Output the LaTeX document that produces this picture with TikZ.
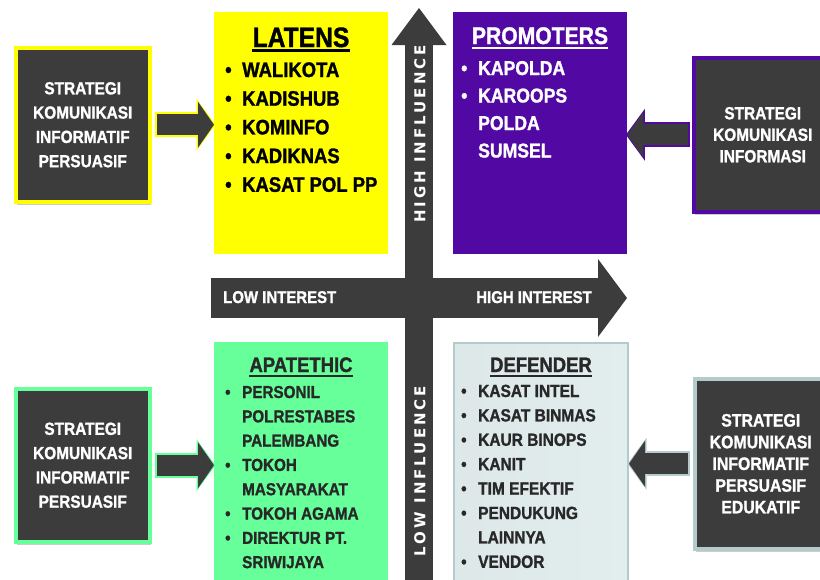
\documentclass[tikz,border=0pt]{standalone}
\usepackage{fontspec}
\setmainfont{Liberation Sans}[FakeStretch=0.88, BoldFeatures={FakeBold=1.3}]
\newfontfamily\axisfont{DejaVu Sans}[LetterSpace=20]
\usetikzlibrary{positioning, arrows.meta, shadows}

\definecolor{latenyellow}{RGB}{255,255,0}
\definecolor{promopurple}{RGB}{82,8,162}
\definecolor{apagreen}{RGB}{102,255,153}
\definecolor{defendfill}{RGB}{226,237,238}
\definecolor{defendline}{RGB}{180,203,205}
\definecolor{boxgray}{RGB}{60,60,60}
\definecolor{textgray}{RGB}{40,40,40}

\newcommand{\blt}{\makebox[17pt][l]{\textbullet}}
\newcommand{\nob}{\hspace*{17pt}}

\begin{document}
\begin{tikzpicture}[x=1pt, y=-1pt,
	quad/.style={rectangle, anchor=north west, inner sep=0, minimum width=174pt, minimum height=242pt},
	strat/.style={rectangle, anchor=north west, fill=boxgray, line width=3.5pt, inner sep=0,
		text=white, align=center, font=\bfseries\fontsize{17.5}{24.3}\selectfont,
		drop shadow={opacity=0.4, shadow xshift=1pt, shadow yshift=-3pt}},
	title/.style={inner sep=0, anchor=base},
	itemlist/.style={inner sep=0, anchor=base west},
	axislabel/.style={inner sep=0, anchor=base west, text=white, font=\bfseries\fontsize{17}{17}\selectfont},
	inflabel/.style={inner sep=0, rotate=90, text=white, font=\axisfont\bfseries\fontsize{15}{15}\selectfont},
	blockarrow/.style={line width=21pt, boxgray, -{Triangle[length=16pt, width=46pt, line width=0pt]},
		preaction={draw=#1, line width=25pt, -{Triangle[length=19pt, width=52pt, line width=0pt]},
			shorten >=-1.5pt, shorten <=-2pt}}]
	\useasboundingbox (0,0) rectangle (820,579);
	\clip (0,0) rectangle (820,579);

	% axes
	\coordinate (vbottom) at (419,590);
	\coordinate (vtop) at (419,8);
	\coordinate (hleft) at (211,298);
	\coordinate (hright) at (627,298);
	\draw[line width=28pt, boxgray, -{Triangle[length=37pt, width=55pt, line width=0pt]}] (vbottom) -- (vtop);
	\draw[line width=40pt, boxgray, -{Triangle[length=29pt, width=78pt, line width=0pt]}] (hleft) -- (hright);
	\node[axislabel] (lowint) at (223,303) {LOW INTEREST};
	\node[axislabel, anchor=base east] (highint) at (592,303) {HIGH INTEREST};
	\node[inflabel] (highinf) at (420,134) {HIGH INFLUENCE};
	\node[inflabel] (lowinf) at (420,471) {LOW INFLUENCE};

	% quadrants
	\node[quad, fill=latenyellow] (latens) at (214,12) {};
	\node[quad, fill=promopurple] (promoters) at (453,12) {};
	\node[quad, fill=apagreen, minimum height=245pt] (apatethic) at (214,342) {};
	\node[quad, left color=defendline!45, right color=defendfill, draw=defendline, line width=2pt, minimum height=245pt] (defender) at (453,342) {};

	\node[title, font=\bfseries\fontsize{28}{28}\selectfont] (latenstitle) at (301,47) {LATENS};
	\draw[line width=2.5pt] ([yshift=-3.5pt]latenstitle.base west) -- ([yshift=-3.5pt]latenstitle.base east);
	\node[itemlist, font=\bfseries\fontsize{21}{28.7}\selectfont] (latenslist) at (225,77) {%
		\begin{tabular}[t]{@{}l@{}}
			\blt WALIKOTA\\ \blt KADISHUB\\ \blt KOMINFO\\ \blt KADIKNAS\\ \blt KASAT POL PP
		\end{tabular}};

	\node[title, text=white, font=\bfseries\fontsize{24}{24}\selectfont] (promotitle) at (540,44) {PROMOTERS};
	\draw[white, line width=2pt] ([yshift=-3.5pt]promotitle.base west) -- ([yshift=-3.5pt]promotitle.base east);
	\node[itemlist, text=white, font=\bfseries\fontsize{20}{27.5}\selectfont] (promolist) at (461,75) {%
		\begin{tabular}[t]{@{}l@{}}
			\blt KAPOLDA\\ \blt KAROOPS\\ \nob POLDA\\ \nob SUMSEL
		\end{tabular}};

	\node[title, text=textgray, font=\bfseries\fontsize{21}{21}\selectfont] (apatitle) at (301,372) {APATETHIC};
	\draw[textgray, line width=2pt] ([yshift=-3.5pt]apatitle.base west) -- ([yshift=-3.5pt]apatitle.base east);
	\node[itemlist, text=textgray, font=\bfseries\fontsize{17.3}{24.3}\selectfont] (apalist) at (225,398) {%
		\begin{tabular}[t]{@{}l@{}}
			\blt PERSONIL\\ \nob POLRESTABES\\ \nob PALEMBANG\\ \blt TOKOH\\ \nob MASYARAKAT\\
			\blt TOKOH AGAMA\\ \blt DIREKTUR PT.\\ \nob SRIWIJAYA
		\end{tabular}};

	\node[title, text=textgray, font=\bfseries\fontsize{21}{21}\selectfont] (defendtitle) at (541,372) {DEFENDER};
	\draw[textgray, line width=2pt] ([yshift=-3.5pt]defendtitle.base west) -- ([yshift=-3.5pt]defendtitle.base east);
	\node[itemlist, text=textgray, font=\bfseries\fontsize{17.6}{24.4}\selectfont] (defendlist) at (461,397) {%
		\begin{tabular}[t]{@{}l@{}}
			\blt KASAT INTEL\\ \blt KASAT BINMAS\\ \blt KAUR BINOPS\\ \blt KANIT\\ \blt TIM EFEKTIF\\
			\blt PENDUKUNG\\ \nob LAINNYA\\ \blt VENDOR
		\end{tabular}};

	% strategies
	\node[strat, draw=latenyellow, minimum width=134pt, minimum height=154pt] (stratlt) at (14,46)
		{STRATEGI\\KOMUNIKASI\\INFORMATIF\\PERSUASIF};
	\node[strat, draw=promopurple, minimum width=138pt, minimum height=154pt,
		font=\bfseries\fontsize{17.5}{21.5}\selectfont] (stratrt) at (692,56)
		{STRATEGI\\KOMUNIKASI\\INFORMASI};
	\node[strat, draw=apagreen, minimum width=134pt, minimum height=153pt] (stratlb) at (14,387)
		{STRATEGI\\KOMUNIKASI\\INFORMATIF\\PERSUASIF};
	\node[strat, draw=defendline, minimum width=132pt, minimum height=170pt,
		font=\bfseries\fontsize{18}{21.7}\selectfont] (stratrb) at (693,377)
		{STRATEGI\\KOMUNIKASI\\INFORMATIF\\PERSUASIF\\EDUKATIF};

	\draw[blockarrow=latenyellow] ([xshift=5pt]stratlt.east) -- (stratlt.east -| latens.west);
	\draw[blockarrow=promopurple] ([xshift=-4pt]stratrt.west) -- (stratrt.west -| promoters.east);
	\draw[blockarrow=apagreen] ([xshift=5pt]stratlb.east) -- (stratlb.east -| apatethic.west);
	\draw[blockarrow=defendline] ([xshift=-5pt]stratrb.west) -- (stratrb.west -| defender.east);
\end{tikzpicture}
\end{document}
